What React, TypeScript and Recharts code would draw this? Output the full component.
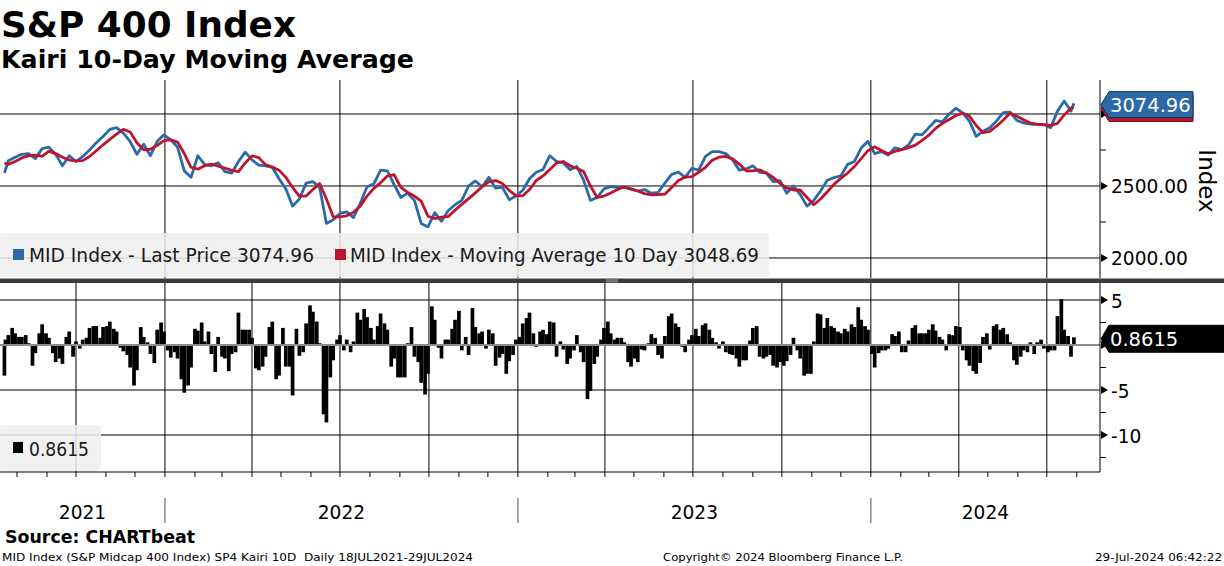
import React from 'react';
import { LineChart, Line, XAxis, YAxis, CartesianGrid, ReferenceLine, ComposedChart, Bar } from 'recharts';

// ---------- data ----------
const firstDate = '2021-07-19';
const lastDate = '2024-07-29';
const weeklyStart = '2021-07-23'; // Friday closes, one per week
const kairiStart = '2021-07-20'; // Tuesday / Friday readings, two per week
const firstPrice = 2590;
const firstMA = 2660;
const firstKairi = -3.4;
const lastPrice = 3074.96;
const lastMA = 3048.69;
const lastKairi = 0.8615;

const priceWeekly = [
  2675, 2700, 2720, 2725, 2690, 2760, 2770, 2720, 2640, 2710,
  2670, 2705, 2750, 2800, 2844, 2893, 2905, 2867, 2809, 2720,
  2790, 2710, 2810, 2855, 2820, 2770, 2605, 2560, 2710, 2650,
  2640, 2662, 2600, 2590, 2670, 2735, 2681, 2645, 2640, 2630,
  2550, 2480, 2360, 2410, 2520, 2530, 2490, 2240, 2265, 2309,
  2320, 2280, 2380, 2495, 2515, 2610, 2605, 2510, 2420, 2450,
  2400, 2240, 2216, 2315, 2255, 2330, 2370, 2400, 2500, 2535,
  2495, 2560, 2485, 2490, 2405, 2430, 2470, 2550, 2595, 2615,
  2710, 2670, 2660, 2612, 2635, 2540, 2400, 2420, 2480, 2495,
  2490, 2492, 2478, 2465, 2475, 2450, 2455, 2520, 2580, 2597,
  2560, 2623, 2610, 2705, 2738, 2738, 2725, 2680, 2610, 2618,
  2640, 2595, 2590, 2530, 2537, 2450, 2500, 2440, 2360, 2400,
  2465, 2540, 2558, 2570, 2650, 2670, 2763, 2810, 2725, 2738,
  2715, 2765, 2752, 2785, 2860, 2855, 2905, 2955, 2946, 3000,
  3040, 3008, 2950, 2845, 2880, 2904, 2952, 3010, 3012, 2955,
  2938, 2930, 2928, 2925, 2905, 3020, 3090, 3020,
];

const maWeekly = [
  2650, 2670, 2695, 2710, 2714, 2705, 2742, 2725, 2700, 2680,
  2674, 2676, 2705, 2745, 2786, 2823, 2860, 2893, 2875, 2800,
  2751, 2755, 2782, 2815, 2820, 2805, 2725, 2630, 2617, 2640,
  2652, 2638, 2625, 2608, 2600, 2660, 2709, 2697, 2648, 2632,
  2610, 2560, 2490, 2430, 2430, 2475, 2517, 2410, 2286, 2286,
  2293, 2318, 2360, 2430, 2483, 2522, 2570, 2578, 2490, 2455,
  2430, 2395, 2290, 2274, 2283, 2288, 2332, 2372, 2412, 2452,
  2495, 2530, 2538, 2517, 2470, 2433, 2432, 2475, 2538, 2570,
  2615, 2660, 2670, 2640, 2623, 2600, 2500, 2420, 2430, 2452,
  2476, 2493, 2480, 2465, 2447, 2439, 2440, 2443, 2490, 2538,
  2562, 2565, 2595, 2630, 2678, 2700, 2705, 2688, 2652, 2605,
  2605, 2612, 2590, 2560, 2519, 2487, 2472, 2472, 2420, 2370,
  2410, 2460, 2513, 2553, 2590, 2635, 2690, 2745, 2772, 2746,
  2723, 2740, 2753, 2766, 2784, 2817, 2853, 2900, 2935, 2962,
  2990, 3005, 2985, 2920, 2870, 2880, 2915, 2958, 3005, 2985,
  2960, 2937, 2930, 2926, 2920, 2935, 2993, 3040,
];

const kairiTwiceWeekly = [
  0.6, 1.1, 1.9, 1.3, 0.9, 0.9, 1.1, 0.2, -2.3, -0.9,
  1.3, 2.3, 1.3, 0.8, -0.9, -1.9, -1.5, -2.1, 0.9, 1.5,
  -1.3, 0.4, -0.4, 0.6, 0.8, 1.9, 2.1, 2.1, 0.8, 2.0,
  2.1, 2.6, 1.8, 1.5, -0.3, -0.7, -1.1, -2.5, -4.5, -2.8,
  2.0, 0.9, 0.3, -1.0, -2.0, 1.7, 2.5, 1.5, -0.6, -1.4,
  -0.8, -1.5, -3.8, -5.3, -4.5, -2.5, 1.8, 1.6, 2.5, 0.4,
  1.5, -1.0, -3.0, 0.9, -1.3, -1.5, -2.9, -1.0, -0.8, 3.6,
  1.7, 1.7, 1.7, 0.8, -2.6, -2.8, -2.4, -1.3, 2.0, 2.6,
  -3.8, -3.4, 1.9, -2.4, -2.4, -5.6, 1.8, -1.2, -0.8, 2.4,
  4.4, 3.7, 2.6, 0.2, -7.7, -8.6, -3.6, -1.7, 0.6, 1.1,
  -0.6, 0.6, -0.8, 0.4, 3.6, 2.8, 4.0, 3.1, 1.9, 0.6,
  2.1, 3.5, 2.4, 1.7, -2.4, -1.5, -3.6, -3.6, -3.6, 0.2,
  2.0, -1.3, -1.9, -4.2, -5.5, -3.2, 4.3, 2.8, -0.3, -1.5,
  0.6, 0.6, 1.8, 2.8, 3.8, -0.6, 0.9, -1.1, 4.1, 2.0,
  1.3, 1.5, -0.4, 1.7, 1.3, -2.3, -1.4, -1.0, -3.2, -1.8,
  -1.1, 0.6, 0.9, 2.4, 3.0, 3.6, 1.3, -0.2, 1.5, 1.7,
  1.2, 2.6, 2.5, -1.3, 0.4, -0.5, -2.1, -1.5, -0.6, 1.1,
  -0.8, -1.9, -6.0, -5.1, -2.1, -1.3, 0.6, 1.9, 2.6, 1.3,
  0.6, 0.8, 0.8, 0.3, -1.9, -2.4, -1.5, -1.9, -0.5, -0.6,
  0.2, 1.2, 0.8, -1.1, -1.5, 1.0, 3.2, 3.5, 2.4, 2.0,
  -0.2, -0.8, 0.6, 1.1, 1.8, 1.0, 2.2, 2.4, 1.7, 0.8,
  0.3, -0.4, 0.4, -0.8, -1.0, -1.1, -1.5, -2.4, -1.7, -1.7,
  0.5, 1.9, 2.1, -1.3, -1.5, -1.3, -1.1, -2.3, -2.5, -1.9,
  -2.3, -1.8, -1.1, 0.8, -0.6, -1.5, -3.4, -3.2, -3.2, 0.4,
  3.5, 3.4, 1.9, 3.0, 2.1, 1.9, 1.5, 1.3, 1.8, 1.5,
  2.3, 2.0, 4.2, 2.8, 2.1, 1.7, -1.0, -2.5, -0.9, -0.6,
  -0.6, -0.4, 1.2, 1.0, 1.5, -0.8, -0.8, 0.5, 1.9, 2.2,
  1.3, 1.3, 1.3, 1.7, 2.3, 1.6, 0.9, 0.6, -0.6, 1.2,
  1.1, 2.1, 2.0, -0.6, -1.7, -2.3, -2.9, -3.2, -2.0, 0.9,
  1.3, -0.5, 2.1, 2.3, 1.7, 1.9, 1.2, 0.3, -1.7, -2.2,
  -1.3, -0.6, -0.8, 0.3, -1.0, 0.3, 0.6, -0.4, -0.8, -0.6,
  -0.6, 3.2, 5.1, 1.7, 1.0, -1.3,
];

const quarterStarts = [
  '2021-10-01', '2022-01-01', '2022-04-01', '2022-07-01', '2022-10-01', '2023-01-01',
  '2023-04-01', '2023-07-01', '2023-10-01', '2024-01-01', '2024-04-01', '2024-07-01',
];
const yearLabels = [2021, 2022, 2023, 2024];
const priceTicks = [2000, 2250, 2500, 2750, 3000];
const priceLabelTicks = [2000, 2500];
const kairiTicks = [5, 2.5, 0, -2.5, -5, -7.5, -10, -12.5];
const kairiLabelTicks = [5, -5, -10];

// ---------- derived tables ----------
const DAY = 86400000;
const ts = (s: string) => Date.parse(s + 'T00:00:00Z');
const xMin = Date.UTC(2021, 6, 14, 10);
const xMax = Date.UTC(2024, 7, 25);

const priceData = [
  { t: ts(firstDate), price: firstPrice, ma: firstMA },
  ...priceWeekly.map((p, i) => ({ t: ts(weeklyStart) + i * 7 * DAY, price: p, ma: maWeekly[i] })),
  { t: ts(lastDate), price: lastPrice, ma: lastMA },
];

const kairiData = [
  { t: ts(firstDate), k: firstKairi },
  ...kairiTwiceWeekly.map((v, j) => ({
    t: ts(kairiStart) + (Math.floor(j / 2) * 7 + (j % 2) * 3) * DAY,
    k: v,
  })),
  { t: ts(lastDate), k: lastKairi },
];

const quarterTs = quarterStarts.map(ts);
const monthTs: number[] = [];
for (let y = 2021; y <= 2024; y++) {
  for (let m = 0; m < 12; m++) {
    const v = Date.UTC(y, m, 1);
    if (v > xMin && v < xMax) monthTs.push(v);
  }
}
const yearCenters = yearLabels.map((y) => {
  const s = Math.max(Date.UTC(y, 0, 1), xMin);
  const e = Math.min(Date.UTC(y + 1, 0, 1), xMax);
  return (s + e) / 2;
});

// ---------- styling ----------
const FONT = '"DejaVu Sans", Verdana, sans-serif';
const BLUE = '#2b69a8';
const RED = '#be142d';
const AXIS_FS = 18.6;
const BAR_W = 3.7;

function badge(
  x: number,
  y: number,
  fill: string,
  stroke: string,
  label: string | null,
  w: number,
  h: number,
) {
  const cy = y + 1.5;
  return (
    <g>
      <polygon
        points={`${x + 1},${cy} ${x + 9},${cy - h} ${x + w},${cy - h} ${x + w},${cy + h} ${x + 9},${cy + h}`}
        fill={fill}
        stroke={stroke}
        strokeWidth={1}
      />
      {label !== null && (
        <text x={x + 10} y={cy + 1} dominantBaseline="central" fill="#fff" fontSize={19.5} fontFamily={FONT}>
          {label}
        </text>
      )}
    </g>
  );
}

function majorTick(x: number, y: number, label: string | null) {
  return (
    <g>
      <polygon points={`${x + 1},${y - 4} ${x + 8},${y} ${x + 1},${y + 4}`} fill="#000" />
      {label !== null && (
        <text x={x + 11} y={y + 1} dominantBaseline="central" fontSize={AXIS_FS} fontFamily={FONT} fill="#000">
          {label}
        </text>
      )}
    </g>
  );
}

const PriceTick = (props: any) => {
  const { x, y, payload } = props;
  const v = payload.value;
  if (v === lastPrice) return badge(x, y, BLUE, '#0d2c52', lastPrice.toFixed(2), 93, 13);
  // moving-average badge sits behind the price badge; only its lower edge shows
  if (v === lastMA) return badge(x, y, RED, '#7a0a18', null, 93, 13);
  if (v === 3000) return majorTick(x, y, null);
  if (priceLabelTicks.includes(v)) return majorTick(x, y, v.toFixed(2));
  return <line x1={x} y1={y} x2={x + 6} y2={y} stroke="#000" />;
};

const KairiTick = (props: any) => {
  const { x, y, payload } = props;
  const v = payload.value;
  if (v === lastKairi) return badge(x, y, '#000', '#000', lastKairi.toFixed(4), 124, 13.5);
  if (v === 0) return majorTick(x, y, null);
  if (kairiLabelTicks.includes(v)) return majorTick(x, y, String(v));
  return <line x1={x} y1={y} x2={x + 6} y2={y} stroke="#000" />;
};

const TimeTick = (props: any) => {
  const { x, y, payload } = props;
  const v = payload.value;
  const yi = yearCenters.indexOf(v);
  if (yi >= 0) {
    return (
      <text x={x} y={y + 47} textAnchor="middle" fontSize={AXIS_FS} fontFamily={FONT} fill="#000">
        {yearLabels[yi]}
      </text>
    );
  }
  const isJan = new Date(v).getUTCMonth() === 0;
  return (
    <g>
      <line x1={x} y1={y} x2={x} y2={y + 5} stroke="#000" />
      {isJan && <line x1={x} y1={y + 26} x2={x} y2={y + 51} stroke="#8a8a8a" strokeWidth={1.5} />}
    </g>
  );
};

const KairiBar = (props: any) => {
  const { x, y, width, height } = props;
  if (x == null || y == null || !isFinite(height)) return null;
  const cx = x + (width || 0) / 2;
  const top = height < 0 ? y + height : y;
  return <rect x={cx - BAR_W / 2} y={top} width={BAR_W} height={Math.abs(height)} fill="#000" />;
};

export default function App() {
  return (
    <div
      style={{
        position: 'absolute',
        left: 0,
        top: 0,
        width: 1224,
        height: 566,
        background: '#fff',
        overflow: 'hidden',
        fontFamily: FONT,
      }}
    >
      {/* price panel */}
      <div style={{ position: 'absolute', left: 0, top: 80 }}>
        <LineChart width={1224} height={198} data={priceData} margin={{ top: 0, right: 0, bottom: 0, left: 0 }}>
          <CartesianGrid
            horizontalValues={[2000, 2500, 3000]}
            verticalValues={quarterTs}
            stroke="#000"
            strokeWidth={1}
          />
          <XAxis type="number" dataKey="t" domain={[xMin, xMax]} allowDataOverflow hide />
          <YAxis
            orientation="right"
            width={124}
            type="number"
            domain={[1861, 3236]}
            allowDataOverflow
            ticks={[...priceTicks, lastMA, lastPrice]}
            interval={0}
            tick={PriceTick}
            tickLine={false}
            tickSize={0}
            tickMargin={0}
            axisLine={{ stroke: '#000', strokeWidth: 1 }}
          />
          <Line
            type="linear"
            dataKey="price"
            stroke={BLUE}
            strokeWidth={2.8}
            dot={false}
            strokeLinejoin="round"
            isAnimationActive={false}
          />
          <Line
            type="linear"
            dataKey="ma"
            stroke={RED}
            strokeWidth={2.8}
            dot={false}
            strokeLinejoin="round"
            isAnimationActive={false}
          />
        </LineChart>
      </div>

      {/* kairi panel */}
      <div style={{ position: 'absolute', left: 0, top: 283 }}>
        <ComposedChart width={1224} height={283} data={kairiData} margin={{ top: 0, right: 0, bottom: 0, left: 0 }}>
          <CartesianGrid horizontalValues={[5, -5, -10]} verticalValues={quarterTs} stroke="#000" strokeWidth={1} />
          <XAxis
            type="number"
            dataKey="t"
            domain={[xMin, xMax]}
            allowDataOverflow
            height={94}
            ticks={[...monthTs, ...yearCenters]}
            interval={0}
            tick={TimeTick}
            tickLine={false}
            tickSize={0}
            tickMargin={0}
            axisLine={{ stroke: '#000', strokeWidth: 1 }}
          />
          <YAxis
            orientation="right"
            width={124}
            type="number"
            domain={[-14.11, 6.89]}
            allowDataOverflow
            ticks={[...kairiTicks, lastKairi]}
            interval={0}
            tick={KairiTick}
            tickLine={false}
            tickSize={0}
            tickMargin={0}
            axisLine={{ stroke: '#000', strokeWidth: 1 }}
          />
          <Bar dataKey="k" fill="#000" shape={KairiBar} isAnimationActive={false} />
          <ReferenceLine y={0} stroke="#8c8c8c" strokeWidth={2} />
        </ComposedChart>
      </div>

      {/* overlay: titles, legends, separator, footer */}
      <svg
        width={1224}
        height={566}
        style={{ position: 'absolute', left: 0, top: 0, pointerEvents: 'none' }}
        fontFamily={FONT}
      >
        <text x={1} y={37} fontSize={36} fontWeight="bold" fill="#000" textLength={295} lengthAdjust="spacingAndGlyphs">
          S&amp;P 400 Index
        </text>
        <text x={1} y={68} fontSize={25} fontWeight="bold" fill="#000" textLength={413} lengthAdjust="spacingAndGlyphs">
          Kairi 10-Day Moving Average
        </text>

        {/* top legend */}
        <rect x={0} y={233} width={769} height={44} rx={3} fill="#eeeeee" fillOpacity={0.85} />
        <rect x={13} y={249} width={11} height={11} fill={BLUE} />
        <text x={29} y={262} fontSize={18.6} fill="#1a1a1a" textLength={285} lengthAdjust="spacingAndGlyphs">
          {'MID Index - Last Price ' + lastPrice.toFixed(2)}
        </text>
        <rect x={335} y={249} width={11} height={11} fill={RED} />
        <text x={350} y={262} fontSize={18.6} fill="#1a1a1a" textLength={409} lengthAdjust="spacingAndGlyphs">
          {'MID Index - Moving Average 10 Day ' + lastMA.toFixed(2)}
        </text>

        {/* panel separator */}
        <rect x={0} y={278.5} width={1224} height={4.5} fill="#3b3b3b" />
        <line x1={606} y1={280} x2={618} y2={280} stroke="#bdbdbd" strokeWidth={0.8} />
        <line x1={606} y1={281.8} x2={618} y2={281.8} stroke="#bdbdbd" strokeWidth={0.8} />

        {/* bottom legend */}
        <rect x={0} y={425} width={101} height={46} rx={3} fill="#eeeeee" fillOpacity={0.85} />
        <rect x={13} y={442} width={10} height={11} fill="#000" />
        <text x={29} y={456} fontSize={18.6} fill="#1a1a1a" textLength={60} lengthAdjust="spacingAndGlyphs">
          {lastKairi.toFixed(4)}
        </text>

        {/* axis title */}
        <text transform="translate(1199,181) rotate(90)" textAnchor="middle" fontSize={23} fill="#000">
          Index
        </text>

        {/* footer */}
        <text x={5} y={543} fontSize={17} fontWeight="bold" fill="#000" textLength={190} lengthAdjust="spacingAndGlyphs">
          Source: CHARTbeat
        </text>
        <text
          x={2}
          y={561}
          fontSize={11}
          fill="#000"
          textLength={471}
          lengthAdjust="spacingAndGlyphs"
          style={{ whiteSpace: 'pre' }}
        >
          {'MID Index (S&P Midcap 400 Index) SP4 Kairi 10D  Daily 18JUL2021-29JUL2024'}
        </text>
        <text x={663} y={561} fontSize={11} fill="#000" textLength={240} lengthAdjust="spacingAndGlyphs">
          Copyright© 2024 Bloomberg Finance L.P.
        </text>
        <text x={1095} y={561} fontSize={11} fill="#000" textLength={127} lengthAdjust="spacingAndGlyphs">
          29-Jul-2024 06:42:22
        </text>
      </svg>
    </div>
  );
}
